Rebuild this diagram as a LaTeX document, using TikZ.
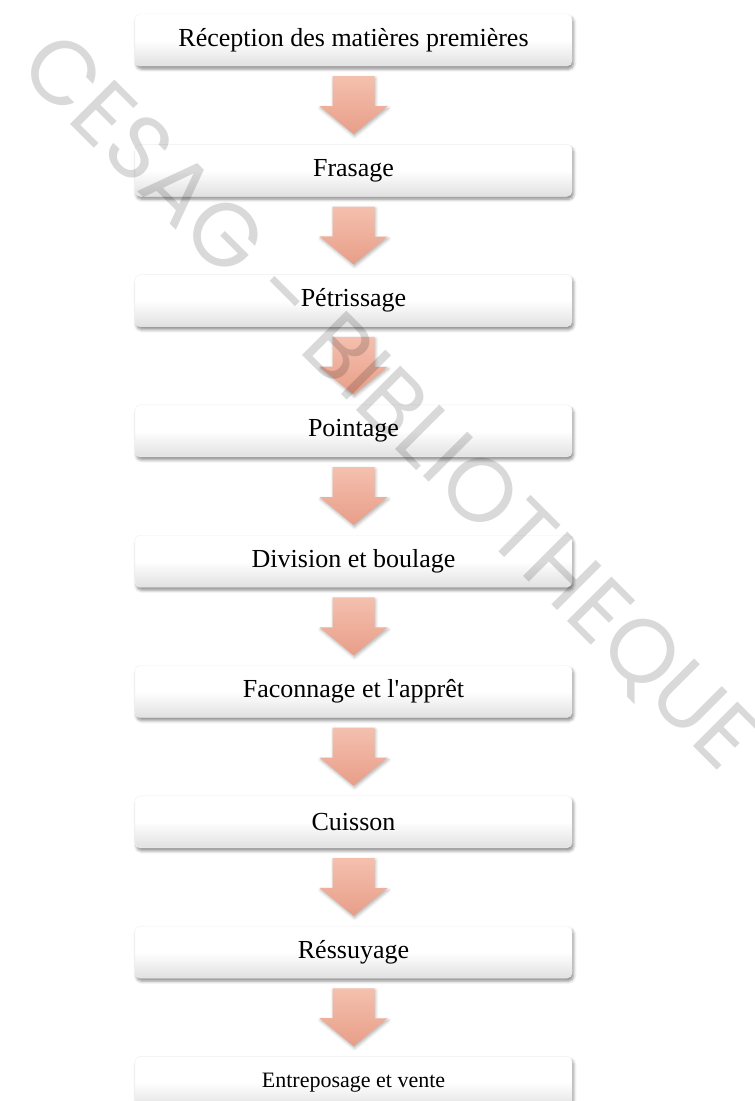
\documentclass[tikz,border=0pt]{standalone}
\usepackage{fontspec}
\setmainfont{Liberation Serif}
\newfontfamily\markfont{Poppins}
\usetikzlibrary{positioning, calc, shadows.blur}
\definecolor{salmontop}{RGB}{246,198,181}
\definecolor{salmontip}{RGB}{232,158,136}

\begin{document}
\begin{tikzpicture}[x=1pt, y=1pt,
    stage/.style={rectangle, rounded corners=5pt, draw=black!6, top color=white, bottom color=black!12, middle color=white, minimum width=437pt, minimum height=52pt, align=center, font=\fontsize{26}{30}\selectfont, blur shadow={shadow xshift=1.5pt, shadow yshift=-3pt, shadow blur radius=3pt, shadow opacity=45}},
    flow/.style={top color=salmontop, bottom color=salmontip, blur shadow={shadow xshift=1pt, shadow yshift=-2pt, shadow blur radius=3pt, shadow opacity=30},
        to path={($(\tikztostart)+(-21pt,-10pt)$) -- ++(42pt,0) -- ++(0,-30pt) -- ++(13pt,0) -- ($(\tikztotarget)+(0,10pt)$) -- ++(-34pt,28pt) -- ++(13pt,0) -- cycle}}]
    \useasboundingbox (0,0) rectangle (755,-1101);
    \node (reception) [stage] at (353.5,-40) {Réception des matières premières};
    \node (frasage) [stage, below=77.9pt of reception] {Frasage};
    \node (petrissage) [stage, below=77.9pt of frasage] {Pétrissage};
    \node (pointage) [stage, below=77.9pt of petrissage] {Pointage};
    \node (division) [stage, below=77.9pt of pointage] {Division et boulage};
    \node (faconnage) [stage, below=77.9pt of division] {Faconnage et l\textquotesingle apprêt};
    \node (cuisson) [stage, below=77.9pt of faconnage] {Cuisson};
    \node (ressuyage) [stage, below=77.9pt of cuisson] {Réssuyage};
    \node (vente) [stage, below=77.9pt of ressuyage, font=\fontsize{22}{26}\selectfont] {Entreposage et vente};
    \path [flow] (reception.south) to (frasage.north);
    \path [flow] (frasage.south) to (petrissage.north);
    \path [flow] (petrissage.south) to (pointage.north);
    \path [flow] (pointage.south) to (division.north);
    \path [flow] (division.south) to (faconnage.north);
    \path [flow] (faconnage.south) to (cuisson.north);
    \path [flow] (cuisson.south) to (ressuyage.north);
    \path [flow] (ressuyage.south) to (vente.north);
    % filigrane
    \node (mark) [rotate=-45, text=black, text opacity=0.15, font=\markfont\fontsize{90}{90}\selectfont] at (387,-404) {CESAG - BIBLIOTHEQUE};
\end{tikzpicture}
\end{document}
